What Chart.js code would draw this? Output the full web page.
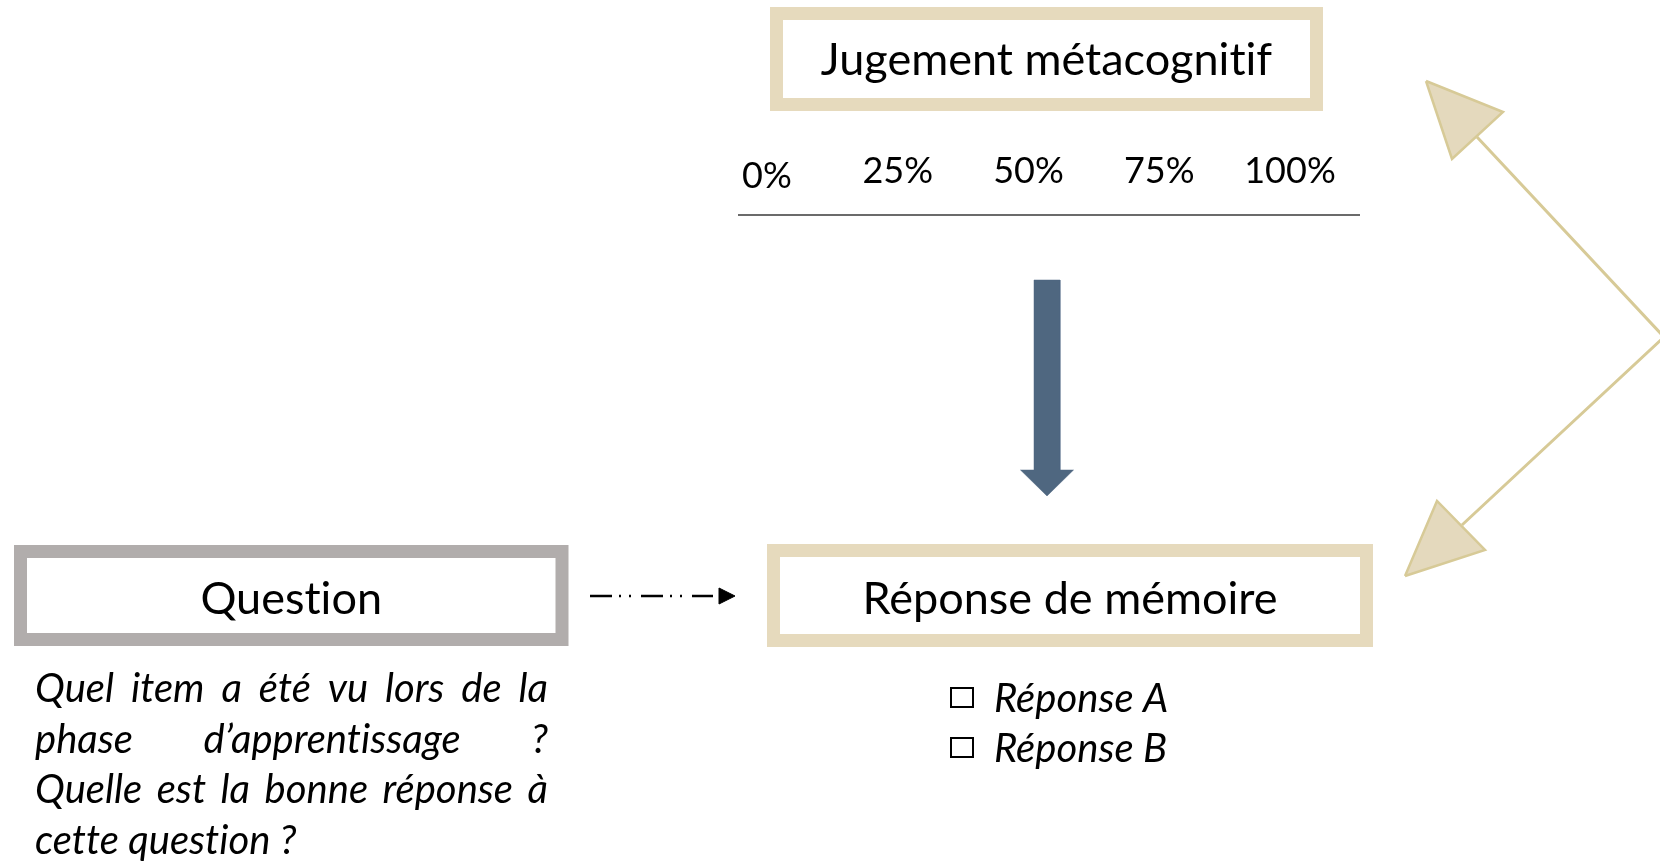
<!DOCTYPE html>
<html><head><meta charset="utf-8">
<script src="https://cdn.jsdelivr.net/npm/chart.js@4.4.1/dist/chart.umd.min.js"></script>
<style>html,body{margin:0;padding:0;background:#fff;overflow:hidden}#wrap{width:1660px;height:863px;position:relative}</style>
</head><body><div id="wrap"><canvas id="c" width="1660" height="863"></canvas></div>
<script>
// ---- content ----
const scaleTicks = [0, 25, 50, 75, 100];
const scaleLabels = ['0%', '25%', '50%', '75%', '100%'];
const boxTitles = ['Jugement métacognitif', 'Question', 'Réponse de mémoire'];
const questionLines = ['Quel item a été vu lors de la', 'phase d’apprentissage ?', 'Quelle est la bonne réponse à', 'cette question ?'];
const answerOptions = ['Réponse A', 'Réponse B'];

// ---- layout (diagram geometry, in the hidden x/y scale units) ----
const boxGeom = [
  {x0: 776.5, y0: 13.5, x1: 1316.5, y1: 104.5, color: '#e6dabd', textY: 75},
  {x0: 20.5, y0: 551.5, x1: 562, y1: 639.5, color: '#b1adac', textY: 614},
  {x0: 773.5, y0: 550.5, x1: 1366.5, y1: 640.5, color: '#e6dabd', textY: 614}
];
const rect = b => [{x:b.x0,y:b.y0},{x:b.x1,y:b.y0},{x:b.x1,y:b.y1},{x:b.x0,y:b.y1},{x:b.x0,y:b.y0}];
const blueArrow = [{x:1034,y:280},{x:1060,y:280},{x:1060,y:470},{x:1073.5,y:470},{x:1047,y:496},{x:1020.5,y:470},{x:1034,y:470},{x:1034,y:280}];
const tanLine = [{x:1477,y:137},{x:1664,y:337},{x:1462,y:525}];
const triUp = [{x:1426,y:81},{x:1503,y:112},{x:1452,y:159},{x:1426,y:81}];
const triDown = [{x:1405,y:576},{x:1437,y:501},{x:1485,y:550},{x:1405,y:576}];
const dashLine = [{x:590,y:596},{x:713,y:596}];
const dashHead = [{x:719,y:588},{x:735,y:596},{x:719,y:604},{x:719,y:588}];

const base = {showLine:true, pointRadius:0, pointHoverRadius:0, tension:0, borderJoinStyle:'miter'};
const datasets = [
  {...base, data: triUp, borderColor:'#d7ca97', backgroundColor:'#e4d9bd', borderWidth:2.5, fill:'shape'},
  {...base, data: triDown, borderColor:'#d7ca97', backgroundColor:'#e4d9bd', borderWidth:2.5, fill:'shape'},
  {...base, data: tanLine, borderColor:'#d7ca97', borderWidth:3, fill:false},
  {...base, data: blueArrow, borderColor:'#4f6780', backgroundColor:'#4f6780', borderWidth:0.5, fill:'shape'},
  {...base, data: dashHead, borderColor:'#000', backgroundColor:'#000', borderWidth:1, fill:'shape'},
  {...base, data: dashLine, borderColor:'#000', borderWidth:2.5, borderDash:[22,7,2,8,2,10], fill:false},
  ...boxGeom.map(b => ({...base, data: rect(b), borderColor:b.color, borderWidth:13, borderCapStyle:'square', fill:false}))
];

const pctAxis = {y: 215, x0: 738, x1: 1360, labelY: [188, 183, 183, 183, 183]};
const para = {x0: 35, x1: 548, y0: 702, lh: 50.5};
const answers = {boxX: 951, boxW: 22, boxH: 19, textX: 994, y0: 712, lh: 50};

const diagramText = {
  id: 'diagramText',
  afterDatasetsDraw(chart) {
    const {ctx} = chart;
    const sx = chart.scales.x, sy = chart.scales.y, sp = chart.scales.pct;
    const X = v => sx.getPixelForValue(v), Y = v => sy.getPixelForValue(v);
    ctx.save();
    ctx.fillStyle = '#000';
    ctx.textBaseline = 'alphabetic';
    if ('letterSpacing' in ctx) ctx.letterSpacing = '0.01px';
    // box titles
    ctx.font = '45px Lato';
    ctx.textAlign = 'center';
    boxTitles.forEach((t, i) => {
      const b = boxGeom[i];
      ctx.fillText(t, X((b.x0 + b.x1) / 2), Y(b.textY));
    });
    // confidence scale
    ctx.font = '36px Lato';
    scaleTicks.forEach((v, i) => ctx.fillText(scaleLabels[i], sp.getPixelForValue(v), Y(pctAxis.labelY[i])));
    ctx.strokeStyle = '#3a3a3a';
    ctx.lineWidth = 1.5;
    ctx.beginPath();
    ctx.moveTo(X(pctAxis.x0), Y(pctAxis.y)); ctx.lineTo(X(pctAxis.x1), Y(pctAxis.y));
    ctx.stroke();
    // justified question paragraph
    ctx.font = 'italic 40px Lato';
    ctx.textAlign = 'left';
    questionLines.forEach((line, i) => {
      const yy = Y(para.y0 + i * para.lh);
      const words = line.split(' ');
      if (i === questionLines.length - 1 || words.length < 2) {
        ctx.fillText(line, X(para.x0), yy);
        return;
      }
      const total = words.reduce((s, w) => s + ctx.measureText(w).width, 0);
      const gap = (X(para.x1) - X(para.x0) - total) / (words.length - 1);
      let cx = X(para.x0);
      words.forEach(w => { ctx.fillText(w, cx, yy); cx += ctx.measureText(w).width + gap; });
    });
    // answer options
    ctx.font = 'italic 40px Lato';
    ctx.lineWidth = 2;
    ctx.strokeStyle = '#000';
    answerOptions.forEach((a, i) => {
      const by = answers.y0 + i * answers.lh;
      ctx.strokeRect(X(answers.boxX), Y(by - 24), answers.boxW, answers.boxH);
      ctx.fillText(a, X(answers.textX), Y(by));
    });
    ctx.restore();
  }
};

new Chart(document.getElementById('c'), {
  type: 'scatter',
  data: {datasets},
  options: {
    responsive: false,
    animation: false,
    events: [],
    layout: {padding: 0},
    plugins: {legend: {display: false}, tooltip: {enabled: false}, title: {display: false}},
    scales: {
      x: {type: 'linear', min: 0, max: 1660, display: false},
      y: {type: 'linear', min: 0, max: 863, reverse: true, display: false},
      pct: {type: 'linear', axis: 'x', position: 'bottom', min: -146.65, max: 170.75, display: false}
    }
  },
  plugins: [diagramText]
});
</script>
</body></html>
